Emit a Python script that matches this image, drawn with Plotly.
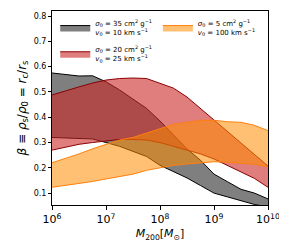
import plotly.graph_objects as go

log_m = [6.0, 6.25, 6.5, 6.75, 7.0, 7.25, 7.5, 7.75, 8.0, 8.25, 8.5, 8.75, 9.0, 9.25, 9.5, 9.75, 10.0]
mass = [10 ** v for v in log_m]

grey_upper = [0.575, 0.568, 0.563, 0.564, 0.54, 0.508, 0.47, 0.435, 0.385, 0.33, 0.275, 0.23, 0.175, 0.145, 0.115, 0.10, 0.077]
grey_lower = [0.32, 0.318, 0.316, 0.314, 0.30, 0.285, 0.265, 0.245, 0.21, 0.185, 0.16, 0.13, 0.10, 0.085, 0.07, 0.055, 0.045]

red_upper = [0.488, 0.505, 0.52, 0.535, 0.547, 0.553, 0.555, 0.553, 0.535, 0.515, 0.48, 0.435, 0.39, 0.345, 0.30, 0.255, 0.207]
red_lower = [0.27, 0.282, 0.293, 0.30, 0.307, 0.312, 0.312, 0.31, 0.30, 0.285, 0.272, 0.255, 0.235, 0.21, 0.185, 0.158, 0.123]

orange_upper = [0.22, 0.237, 0.255, 0.275, 0.293, 0.31, 0.32, 0.338, 0.356, 0.372, 0.38, 0.388, 0.388, 0.382, 0.38, 0.368, 0.347]
orange_lower = [0.123, 0.13, 0.138, 0.146, 0.156, 0.165, 0.175, 0.19, 0.20, 0.21, 0.215, 0.22, 0.224, 0.222, 0.218, 0.214, 0.204]

labels = [
    "<i>σ</i><sub>0</sub> = 35 cm<sup>2</sup> g<sup>−1</sup><br><i>v</i><sub>0</sub> = 10 km s<sup>−1</sup>",
    "<i>σ</i><sub>0</sub> = 20 cm<sup>2</sup> g<sup>−1</sup><br><i>v</i><sub>0</sub> = 25 km s<sup>−1</sup>",
    "<i>σ</i><sub>0</sub> = 5 cm<sup>2</sup> g<sup>−1</sup><br><i>v</i><sub>0</sub> = 100 km s<sup>−1</sup>",
]
x_tick_vals = [1e6, 1e7, 1e8, 1e9, 1e10]
x_tick_text = ["10<sup>6</sup>", "10<sup>7</sup>", "10<sup>8</sup>", "10<sup>9</sup>", "10<sup>10</sup>"]
y_tick_vals = [0.1, 0.2, 0.3, 0.4, 0.5, 0.6, 0.7, 0.8]

bands = [
    (grey_lower, grey_upper, "rgba(0,0,0,0.5)", "black", labels[0], "legend", "g1"),
    (red_lower, red_upper, "rgba(204,40,40,0.6)", "#8b0000", labels[1], "legend", "g2"),
    (orange_lower, orange_upper, "rgba(255,140,0,0.55)", "#ff7f0e", labels[2], "legend2", "g3"),
]

fig = go.Figure()
for lo, up, fill, edge, name, leg, grp in bands:
    fig.add_trace(go.Scatter(x=mass, y=lo, mode="lines", line=dict(color=edge, width=1),
                             showlegend=False, hoverinfo="skip", legendgroup=grp))
    fig.add_trace(go.Scatter(x=mass, y=up, mode="lines", line=dict(color=edge, width=1),
                             fill="tonexty", fillcolor=fill, name=name, legend=leg,
                             legendgroup=grp))

leg_common = dict(bgcolor="rgba(0,0,0,0)", font=dict(size=7), itemwidth=30,
                  tracegroupgap=5, traceorder="grouped", xanchor="left", yanchor="top")

# page is drawn with an 8px body offset; size and margins compensate for that
fig.update_layout(
    width=279, height=238,
    margin=dict(l=44, r=19, t=3, b=41),
    paper_bgcolor="white", plot_bgcolor="white",
    font=dict(family="DejaVu Sans", color="black"),
    showlegend=True,
    legend=dict(x=0.015, y=0.995, **leg_common),
    legend2=dict(x=0.49, y=0.995, **leg_common),
    xaxis=dict(type="log", range=[6, 10], tickvals=x_tick_vals, ticktext=x_tick_text,
               showline=True, linecolor="black", linewidth=1, mirror=True,
               ticks="outside", ticklen=4, tickcolor="black", showgrid=False, zeroline=False,
               tickfont=dict(size=11), ticklabeloverflow="allow",
               title=dict(text="<i>M</i><sub>200</sub>[<i>M</i><sub>⊙</sub>]", font=dict(size=11), standoff=4)),
    yaxis=dict(range=[0.053, 0.82], tickvals=y_tick_vals, tickformat=".1f",
               showline=True, linecolor="black", linewidth=1, mirror=True,
               ticks="outside", ticklen=3, tickcolor="black", showgrid=False, zeroline=False,
               tickfont=dict(size=8),
               title=dict(text="<i>β</i> ≡ <i>ρ</i><sub>s</sub>/<i>ρ</i><sub>0</sub> = <i>r</i><sub>c</sub>/<i>r</i><sub>s</sub>",
                          font=dict(size=12), standoff=4)),
)

fig.write_html("out.html")
